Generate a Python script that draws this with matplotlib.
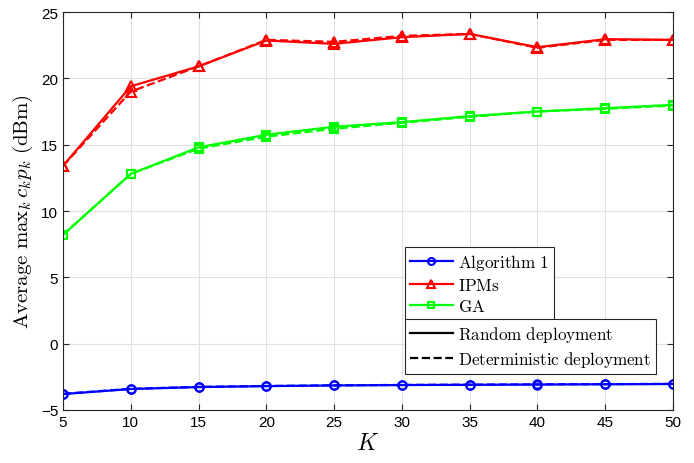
import matplotlib
matplotlib.use("Agg")
import matplotlib.pyplot as plt
from matplotlib.lines import Line2D

plt.rcParams['mathtext.fontset'] = 'cm'
plt.rcParams['font.family'] = ['Liberation Sans', 'DejaVu Sans']

K = [5, 10, 15, 20, 25, 30, 35, 40, 45, 50]
alg1_rand = [-3.80, -3.42, -3.27, -3.20, -3.15, -3.12, -3.10, -3.08, -3.06, -3.04]
alg1_det = [-3.78, -3.40, -3.26, -3.19, -3.14, -3.11, -3.09, -3.07, -3.05, -3.03]
ipm_rand = [13.4, 19.4, 20.9, 22.85, 22.6, 23.1, 23.35, 22.35, 22.95, 22.9]
ipm_det = [13.4, 19.0, 20.9, 22.9, 22.75, 23.2, 23.35, 22.3, 22.9, 22.9]
ga_rand = [8.2, 12.8, 14.8, 15.75, 16.35, 16.7, 17.15, 17.5, 17.75, 18.0]
ga_det = [8.2, 12.8, 14.7, 15.6, 16.2, 16.65, 17.1, 17.5, 17.7, 17.95]

fig = plt.figure(figsize=(6.94, 4.64), dpi=100)
ax = fig.add_axes([63/694, 1-411/464, 610/694, 398/464])

blue, red, green = '#0000ff', '#ff0000', '#00ff00'
lw = 1.6
ax.plot(K, alg1_rand, '-', color=blue, lw=lw, marker='o', ms=6, mfc='none', mew=1.5)
ax.plot(K, alg1_det, '--', color=blue, lw=lw, marker='o', ms=6, mfc='none', mew=1.5)
ax.plot(K, ipm_rand, '-', color=red, lw=lw, marker='^', ms=7, mfc='none', mew=1.5)
ax.plot(K, ipm_det, '--', color=red, lw=lw, marker='^', ms=7, mfc='none', mew=1.5)
ax.plot(K, ga_rand, '-', color=green, lw=lw, marker='s', ms=6, mfc='none', mew=1.5)
ax.plot(K, ga_det, '--', color=green, lw=lw, marker='s', ms=6, mfc='none', mew=1.5)

ax.set_xlim(5, 50)
ax.set_ylim(-5, 25)
ax.set_xticks(K)
ax.set_yticks([-5, 0, 5, 10, 15, 20, 25])
ax.grid(True, color='#e0e0e0', lw=0.8)
ax.tick_params(direction='in', top=True, right=True, labelsize=11, length=4, color='#262626')
for s in ax.spines.values():
    s.set_color('#262626')
    s.set_linewidth(0.8)

ax.set_xlabel(r'$K$', fontsize=17, labelpad=2)
ax.set_ylabel(r'$\mathrm{Average}\ \mathrm{max}_k\, c_k p_k\ \mathrm{(dBm)}$', fontsize=15, labelpad=4)

fs = 12.3
h1 = [Line2D([], [], color=blue, lw=lw, marker='o', ms=5, mfc='none', mew=1.5),
      Line2D([], [], color=red, lw=lw, marker='^', ms=6, mfc='none', mew=1.5),
      Line2D([], [], color=green, lw=lw, marker='s', ms=5, mfc='none', mew=1.5)]
l1 = ax.legend(h1, [r'$\mathrm{Algorithm\ 1}$', r'$\mathrm{IPMs}$', r'$\mathrm{GA}$'],
               loc='upper left', bbox_to_anchor=((405-63)/610, (411-248)/398),
               fontsize=fs, frameon=True, fancybox=False, edgecolor='#262626',
               framealpha=1, borderpad=0.3, labelspacing=0.3, handlelength=2.5,
               handletextpad=0.3, borderaxespad=0)
l1.get_frame().set_linewidth(0.8)
ax.add_artist(l1)
h2 = [Line2D([], [], color='black', lw=lw, ls='-'),
      Line2D([], [], color='black', lw=lw, ls='--')]
l2 = ax.legend(h2, [r'$\mathrm{Random\ deployment}$', r'$\mathrm{Deterministic\ deployment}$'],
               loc='upper left', bbox_to_anchor=((405-63)/610, (411-320)/398),
               fontsize=fs, frameon=True, fancybox=False, edgecolor='#262626',
               framealpha=1, borderpad=0.3, labelspacing=0.3, handlelength=2.5,
               handletextpad=0.3, borderaxespad=0)
l2.get_frame().set_linewidth(0.8)

fig.savefig('out.png', dpi=100)
